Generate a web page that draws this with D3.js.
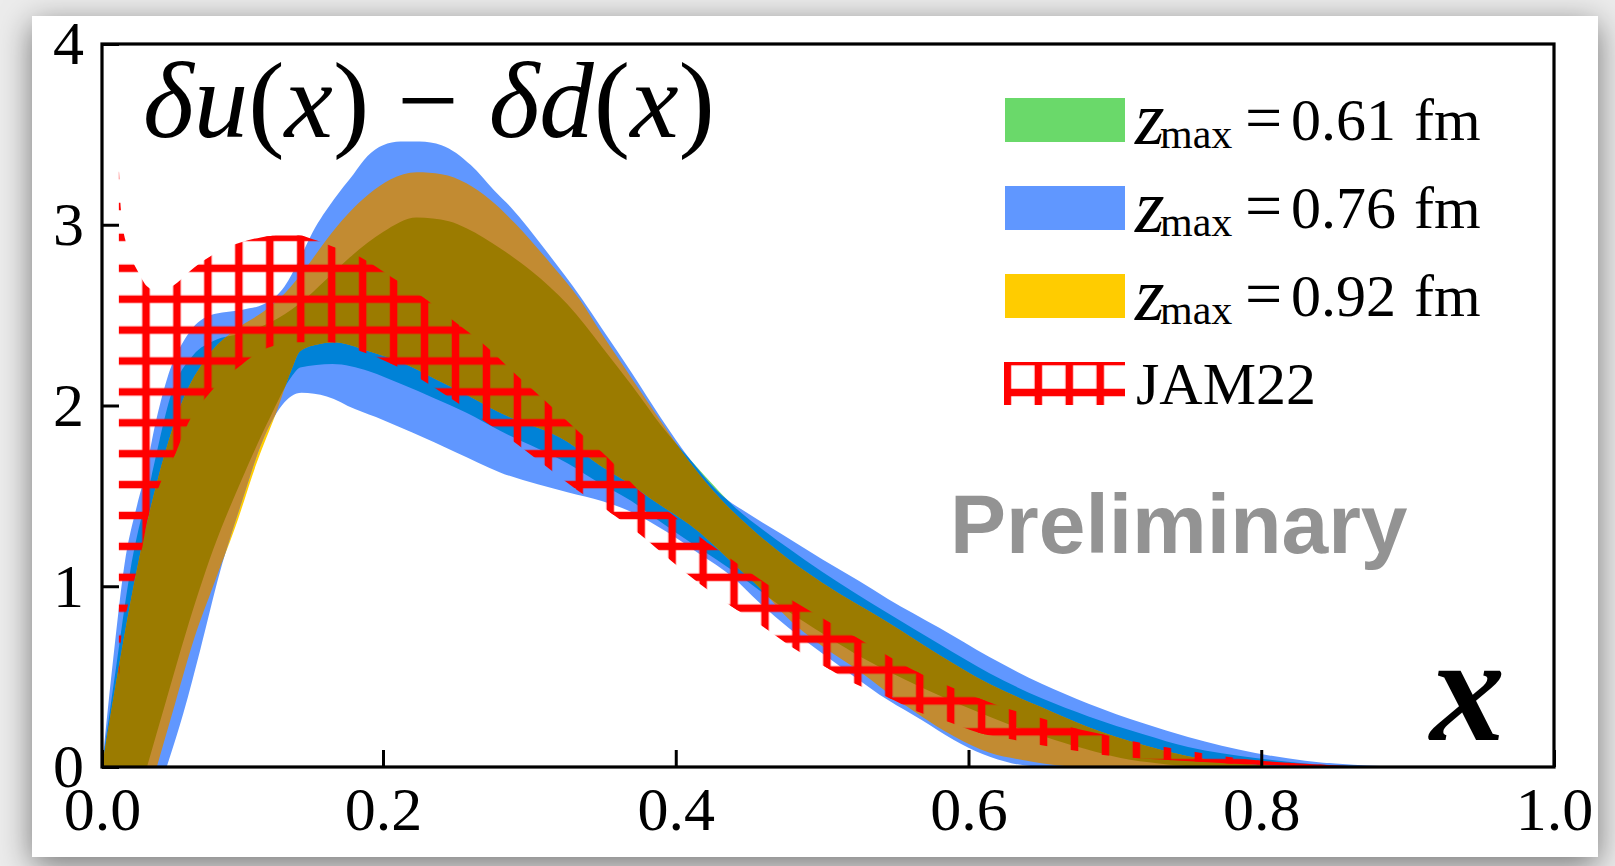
<!DOCTYPE html>
<html>
<head>
<meta charset="utf-8">
<script src="https://cdn.jsdelivr.net/npm/d3@7"></script>
<style>
  html, body { margin: 0; padding: 0; width: 1615px; height: 866px; overflow: hidden; background: #ececec; }
  #card { position: absolute; left: 32px; top: 16px; width: 1566px; height: 841px; background: #fff;
          box-shadow: 0 8px 30px rgba(0,0,0,0.5); }
  svg { position: absolute; left: 0; top: 0; }
</style>
</head>
<body>
<div id="card"></div>
<svg id="chart" width="1615" height="866"></svg>
<script>
// ---- data: [x, value] pairs for each band edge ----
const xTicks = [0, 0.2, 0.4, 0.6, 0.8, 1.0];
const yTicks = [0, 1, 2, 3, 4];
const legendLabels = ["0.61", "0.76", "0.92"];
const refLabel = "JAM22";

const blueUpper = [[0,0],[0.008,0.6],[0.016,1.12],[0.025,1.45],[0.031,1.63],[0.038,1.9],[0.046,2.14],[0.06,2.38],[0.077,2.5],[0.1,2.53],[0.115,2.56],[0.13,2.66],[0.14,2.8],[0.15,2.96],[0.165,3.14],[0.179,3.28],[0.189,3.38],[0.2,3.44],[0.212,3.46],[0.225,3.46],[0.24,3.44],[0.26,3.33],[0.276,3.19],[0.287,3.1],[0.311,2.86],[0.335,2.6],[0.35,2.42],[0.37,2.18],[0.39,1.93],[0.41,1.70],[0.432,1.50],[0.45,1.40],[0.472,1.29],[0.5,1.15],[0.525,1.03],[0.545,0.93],[0.58,0.77],[0.614,0.61],[0.65,0.46],[0.682,0.35],[0.72,0.24],[0.75,0.166],[0.796,0.078],[0.83,0.035],[0.863,0.012],[0.9,0]];
const blueLower = [[0.046,0],[0.058,0.3],[0.07,0.65],[0.084,1.08],[0.1,1.48],[0.114,1.8],[0.128,2.0],[0.142,2.07],[0.16,2.05],[0.18,1.98],[0.2,1.92],[0.22,1.85],[0.25,1.74],[0.28,1.63],[0.326,1.52],[0.35,1.47],[0.37,1.41],[0.394,1.30],[0.416,1.18],[0.439,1.05],[0.457,0.91],[0.477,0.77],[0.5,0.63],[0.522,0.50],[0.545,0.37],[0.568,0.26],[0.59,0.15],[0.61,0.07],[0.63,0.02],[0.65,0]];

const greenUpper = [[0,0],[0.01,0.55],[0.02,1.08],[0.035,1.6],[0.05,2.08],[0.065,2.28],[0.08,2.36],[0.1,2.40],[0.12,2.46],[0.14,2.56],[0.16,2.70],[0.1765,2.82],[0.2,2.96],[0.223,3.04],[0.245,3.02],[0.257,2.98],[0.28,2.87],[0.302,2.74],[0.326,2.56],[0.35,2.32],[0.37,2.11],[0.39,1.89],[0.41,1.70],[0.428,1.54],[0.44,1.44],[0.46,1.31],[0.477,1.21],[0.5,1.08],[0.545,0.85],[0.58,0.68],[0.614,0.52],[0.65,0.38],[0.682,0.28],[0.72,0.18],[0.75,0.11],[0.796,0.05],[0.83,0.02],[0.87,0.005],[0.9,0]];
const greenLower = [[0.032,0],[0.045,0.35],[0.06,0.75],[0.079,1.2],[0.1,1.6],[0.12,1.94],[0.135,2.16],[0.141,2.21],[0.164,2.23],[0.19,2.19],[0.212,2.12],[0.235,2.04],[0.257,1.96],[0.28,1.86],[0.326,1.68],[0.348,1.57],[0.37,1.47],[0.382,1.40],[0.416,1.21],[0.44,1.08],[0.46,0.96],[0.477,0.86],[0.5,0.74],[0.522,0.63],[0.545,0.53],[0.568,0.44],[0.59,0.36],[0.614,0.28],[0.636,0.21],[0.659,0.15],[0.68,0.10],[0.704,0.05],[0.73,0.02],[0.76,0]];

const yellowUpper = [[0,0],[0.013,0.6],[0.025,1.1],[0.04,1.6],[0.057,2.02],[0.075,2.27],[0.095,2.42],[0.115,2.52],[0.13,2.62],[0.145,2.76],[0.16,2.92],[0.175,3.06],[0.19,3.17],[0.205,3.25],[0.223,3.29],[0.24,3.28],[0.257,3.23],[0.273,3.14],[0.29,3.01],[0.314,2.79],[0.335,2.58],[0.35,2.39],[0.37,2.15],[0.39,1.91],[0.41,1.68],[0.432,1.47],[0.45,1.33],[0.477,1.15],[0.5,1.02],[0.545,0.80],[0.58,0.62],[0.614,0.46],[0.65,0.33],[0.682,0.22],[0.72,0.12],[0.75,0.06],[0.78,0.025],[0.82,0]];
const yellowLower = [[0.039,0],[0.052,0.35],[0.066,0.72],[0.08,1.02],[0.095,1.33],[0.11,1.68],[0.124,1.96],[0.135,2.2],[0.141,2.30],[0.155,2.34],[0.165,2.35],[0.19,2.30],[0.212,2.24],[0.235,2.15],[0.257,2.06],[0.28,1.96],[0.326,1.80],[0.348,1.67],[0.37,1.56],[0.382,1.49],[0.416,1.30],[0.44,1.12],[0.46,0.97],[0.477,0.82],[0.5,0.67],[0.522,0.55],[0.545,0.41],[0.568,0.28],[0.59,0.17],[0.614,0.08],[0.636,0.04],[0.66,0.01],[0.68,0]];

const jamUpper = [[0.012,3.32],[0.0135,3.08],[0.0165,2.92],[0.02,2.83],[0.025,2.75],[0.032,2.66],[0.04,2.63],[0.05,2.66],[0.065,2.76],[0.085,2.86],[0.098,2.9],[0.113,2.93],[0.127,2.94],[0.14,2.94],[0.15,2.92],[0.164,2.88],[0.184,2.82],[0.206,2.71],[0.227,2.60],[0.248,2.47],[0.27,2.33],[0.291,2.17],[0.313,2.01],[0.333,1.86],[0.355,1.70],[0.375,1.53],[0.397,1.40],[0.417,1.27],[0.438,1.15],[0.459,1.03],[0.48,0.92],[0.503,0.81],[0.5225,0.72],[0.544,0.62],[0.564,0.53],[0.586,0.45],[0.607,0.38],[0.628,0.32],[0.65,0.27],[0.67,0.22],[0.692,0.18],[0.714,0.14],[0.734,0.11],[0.755,0.083],[0.778,0.055],[0.8,0.035],[0.83,0.018],[0.86,0.006],[0.88,0]];
const jamLower = [[0.012,0.45],[0.0135,0.7],[0.018,0.88],[0.0235,1.05],[0.0285,1.21],[0.0327,1.38],[0.041,1.56],[0.052,1.73],[0.0612,1.9],[0.0745,2.05],[0.0968,2.21],[0.118,2.32],[0.14,2.35],[0.162,2.35],[0.184,2.30],[0.206,2.23],[0.227,2.14],[0.248,2.03],[0.27,1.91],[0.291,1.79],[0.312,1.66],[0.333,1.53],[0.355,1.41],[0.375,1.29],[0.397,1.14],[0.417,1.01],[0.438,0.89],[0.459,0.78],[0.48,0.66],[0.503,0.55],[0.5225,0.46],[0.5437,0.39],[0.564,0.31],[0.586,0.25],[0.607,0.19],[0.628,0.155],[0.65,0.12],[0.67,0.094],[0.692,0.066],[0.714,0.05],[0.734,0.04],[0.755,0.03],[0.778,0.02],[0.8,0.012],[0.83,0.005],[0.86,0]];

// ---- colours ----
const C = {
  green: "#6ad96a", blue: "#6097ff", yellow: "#ffcc00",
  blueGreen: "#0082d7", blueYellow: "#c28b32", all: "#9b7b00",
  red: "#ff0000", grey: "#939393"
};
const serif = "'Liberation Serif', 'Times New Roman', serif";

const svg = d3.select("#chart");
const x = d3.scaleLinear().domain([0, 0.2, 1]).range([102, 383, 1554]);
const y = d3.scaleLinear().domain([0, 4]).range([767, 44]);

const edge = d3.line().x(d => x(d[0])).y(d => y(d[1])).curve(d3.curveMonotoneX);
function bandPath(upper, lower) {
  const top = edge(upper);
  const bottom = edge(lower.slice().reverse());
  return top + "L" + bottom.slice(1) + "Z";
}
const bands = {
  blue: bandPath(blueUpper, blueLower),
  green: bandPath(greenUpper, greenLower),
  yellow: bandPath(yellowUpper, yellowLower),
  jam: bandPath(jamUpper, jamLower)
};

const defs = svg.append("defs");
defs.append("clipPath").attr("id", "plotClip").append("rect")
  .attr("x", x(0)).attr("y", y(4)).attr("width", x(1) - x(0)).attr("height", y(0) - y(4));
["blue", "green", "jam"].forEach(k => defs.append("clipPath").attr("id", k + "Clip")
  .append("path").attr("d", bands[k]));

// '+' hatch made of two line patterns
const HX = 30.95, HY = 30.9, LW = 7.5;
function hatchPattern(id, cx, cy, horizontal, vertical) {
  const p = defs.append("pattern").attr("id", id).attr("patternUnits", "userSpaceOnUse")
    .attr("width", HX).attr("height", HY).attr("x", cx - HX / 2).attr("y", cy - HY / 2);
  if (horizontal) p.append("rect").attr("x", 0).attr("y", HY / 2 - LW / 2).attr("width", HX).attr("height", LW).attr("fill", C.red);
  if (vertical) p.append("rect").attr("x", HX / 2 - LW / 2).attr("y", 0).attr("width", LW).attr("height", HY).attr("fill", C.red);
}
hatchPattern("hatchH", 146, 268.3, true, false);
hatchPattern("hatchV", 146, 268.3, false, true);
hatchPattern("hatchLegend", 1007.4, 392.5, true, true);

// ---- bands ----
const plot = svg.append("g").attr("clip-path", "url(#plotClip)");
plot.append("path").attr("d", bands.green).attr("fill", C.green);
plot.append("path").attr("d", bands.yellow).attr("fill", C.yellow);
plot.append("path").attr("d", bands.blue).attr("fill", C.blue);
const inBlue = plot.append("g").attr("clip-path", "url(#blueClip)");
inBlue.append("path").attr("d", bands.green).attr("fill", C.blueGreen);
inBlue.append("path").attr("d", bands.yellow).attr("fill", C.blueYellow);
inBlue.append("g").attr("clip-path", "url(#greenClip)")
  .append("path").attr("d", bands.yellow).attr("fill", C.all);

// JAM22 hatched band
const jam = plot.append("g").attr("clip-path", "url(#jamClip)");
jam.append("rect").attr("x", x(0)).attr("y", y(4)).attr("width", x(1) - x(0)).attr("height", y(0) - y(4))
  .attr("fill", "url(#hatchH)");
jam.append("rect").attr("x", x(0.016)).attr("y", y(4)).attr("width", x(1) - x(0.016)).attr("height", y(0) - y(4))
  .attr("fill", "url(#hatchV)");

// ---- axes ----
function styleAxis(g) {
  g.select(".domain").remove();
  g.selectAll("line").attr("stroke", "#000").attr("stroke-width", 3);
  g.selectAll("text").attr("fill", "#000").attr("font-family", serif).attr("font-size", 62);
}
svg.append("g").attr("transform", `translate(0,${y(0)})`)
  .call(d3.axisBottom(x).tickValues(xTicks).tickSize(-17).tickPadding(19).tickFormat(d3.format(".1f")))
  .call(styleAxis);
svg.append("g").attr("transform", `translate(${x(0)},0)`)
  .call(d3.axisLeft(y).tickValues(yTicks).tickSize(-17).tickPadding(18).tickFormat(d3.format("d")))
  .call(styleAxis);
svg.append("rect").attr("x", x(0)).attr("y", y(4)).attr("width", x(1) - x(0)).attr("height", y(0) - y(4))
  .attr("fill", "none").attr("stroke", "#000").attr("stroke-width", 3.2);

// ---- title ----
const title = svg.append("text").attr("x", 143).attr("y", 137)
  .attr("font-family", serif).attr("font-size", 109).attr("fill", "#000");
[["δu", true], ["(", false], ["x", true], [")", false], ["−", false, 28], ["δd", true, 30], ["(", false], ["x", true], [")", false]]
  .forEach(([t, it, dx]) => title.append("tspan").text(t).attr("font-style", it ? "italic" : "normal").attr("dx", dx || 0));

// x-axis variable
svg.append("text").attr("x", 1430).attr("y", 740).attr("font-family", serif)
  .attr("font-size", 150).attr("font-style", "italic").attr("font-weight", "bold").text("x");

// watermark
svg.append("text").attr("x", 950).attr("y", 553).attr("font-family", "'Liberation Sans', Arial, sans-serif")
  .attr("font-weight", "bold").attr("font-size", 84).attr("fill", C.grey).text("Preliminary");

// ---- legend ----
const legendColors = [C.green, C.blue, C.yellow];
const leg = svg.append("g");
legendLabels.forEach((lab, i) => {
  const top = 98 + i * 88, base = 140 + i * 88;
  leg.append("rect").attr("x", 1005).attr("y", top).attr("width", 120).attr("height", 44).attr("fill", legendColors[i]);
  leg.append("text").attr("x", 1135).attr("y", base + 4).attr("font-family", serif).attr("font-style", "italic")
    .attr("font-size", 76).text("z");
  leg.append("text").attr("x", 1160).attr("y", base + 8).attr("font-family", serif).attr("font-size", 42).text("max");
  leg.append("text").attr("x", 1245).attr("y", base).attr("font-family", serif).attr("font-size", 66).text("=");
  leg.append("text").attr("x", 1291).attr("y", base).attr("font-family", serif).attr("font-size", 60).text(lab);
  leg.append("text").attr("x", 1414).attr("y", base).attr("font-family", serif).attr("font-size", 60).text("fm");
});
leg.append("rect").attr("x", 1004).attr("y", 362).attr("width", 121).attr("height", 43).attr("fill", "url(#hatchLegend)");
leg.append("text").attr("x", 1136).attr("y", 404).attr("font-family", serif).attr("font-size", 60).text(refLabel);
</script>
</body>
</html>
